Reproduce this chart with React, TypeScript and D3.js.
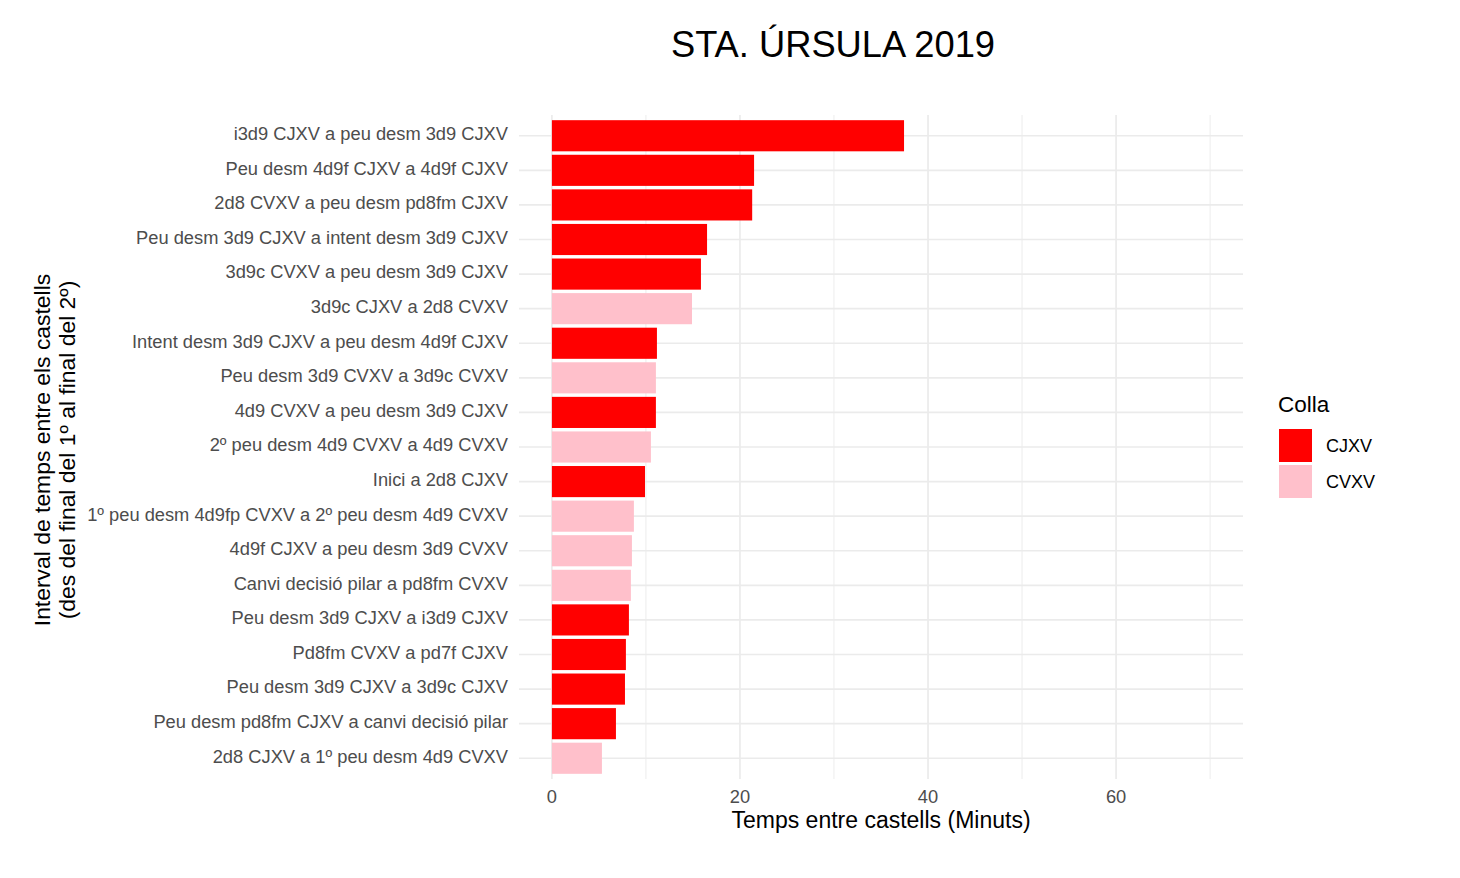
import React from "react";
import * as d3 from "d3";

const categories = [
  "i3d9 CJXV a peu desm 3d9 CJXV",
  "Peu desm 4d9f CJXV a 4d9f CJXV",
  "2d8 CVXV a peu desm pd8fm CJXV",
  "Peu desm 3d9 CJXV a intent desm 3d9 CJXV",
  "3d9c CVXV a peu desm 3d9 CJXV",
  "3d9c CJXV a 2d8 CVXV",
  "Intent desm 3d9 CJXV a peu desm 4d9f CJXV",
  "Peu desm 3d9 CVXV a 3d9c CVXV",
  "4d9 CVXV a peu desm 3d9 CJXV",
  "2º peu desm 4d9 CVXV a 4d9 CVXV",
  "Inici a 2d8 CJXV",
  "1º peu desm 4d9fp CVXV a 2º peu desm 4d9 CVXV",
  "4d9f CJXV a peu desm 3d9 CVXV",
  "Canvi decisió pilar a pd8fm CVXV",
  "Peu desm 3d9 CJXV a i3d9 CJXV",
  "Pd8fm CVXV a pd7f CJXV",
  "Peu desm 3d9 CJXV a 3d9c CJXV",
  "Peu desm pd8fm CJXV a canvi decisió pilar",
  "2d8 CJXV a 1º peu desm 4d9 CVXV",
];
const minutes = [
  37.45, 21.5, 21.3, 16.5, 15.85, 14.9, 11.17, 11.06, 11.06, 10.53, 9.9, 8.72,
  8.51, 8.4, 8.19, 7.87, 7.77, 6.81, 5.32,
];
const colla = [
  "CJXV", "CJXV", "CJXV", "CJXV", "CJXV", "CVXV", "CJXV", "CVXV", "CJXV",
  "CVXV", "CJXV", "CVXV", "CVXV", "CVXV", "CJXV", "CJXV", "CJXV", "CJXV", "CVXV",
];
const groups = ["CJXV", "CVXV"];
const groupColors = ["#ff0000", "#ffc0cb"];
const xTicks = [0, 20, 40, 60];
const xMinor = [10, 30, 50, 70];

const title = "STA. ÚRSULA 2019";
const xTitle = "Temps entre castells (Minuts)";
const yTitle1 = "Interval de temps entre els castells";
const yTitle2 = "(des del final del 1º al final del 2º)";
const legendTitle = "Colla";

const W = 1460;
const H = 878;
const panel = { left: 519, right: 1243, top: 115, bottom: 779 };
const FONT = "'Liberation Sans', Arial, sans-serif";

export default function App() {
  const x = d3
    .scaleLinear()
    .domain([-3.5, 73.5])
    .range([panel.left, panel.right]);
  // ggplot-like discrete scale: expand 0.6 around centres, bar width 0.9
  const y = d3
    .scalePoint<string>()
    .domain(categories)
    .range([panel.top, panel.bottom])
    .padding(0.6);
  const step = y.step();
  const cy = (c: string) => y(c) as number;
  const bh = step * 0.9;
  const color = d3.scaleOrdinal<string, string>().domain(groups).range(groupColors);
  const grid = "#ebebeb";

  return (
    <svg
      width={W}
      height={H}
      style={{ position: "absolute", left: 0, top: 0, background: "#fff" }}
      fontFamily={FONT}
    >
      <rect x={0} y={0} width={W} height={H} fill="#fff" />
      {xMinor.map((t) => (
        <line
          key={"mn" + t}
          x1={x(t)}
          x2={x(t)}
          y1={panel.top}
          y2={panel.bottom}
          stroke={grid}
          strokeWidth={0.9}
        />
      ))}
      {xTicks.map((t) => (
        <line
          key={"mj" + t}
          x1={x(t)}
          x2={x(t)}
          y1={panel.top}
          y2={panel.bottom}
          stroke={grid}
          strokeWidth={1.7}
        />
      ))}
      {categories.map((c, i) => (
        <line
          key={"hg" + i}
          x1={panel.left}
          x2={panel.right}
          y1={cy(c)}
          y2={cy(c)}
          stroke={grid}
          strokeWidth={1.7}
        />
      ))}
      {categories.map((c, i) => (
        <rect
          key={"b" + i}
          x={x(0)}
          y={cy(c) - bh / 2}
          width={x(minutes[i]) - x(0)}
          height={bh}
          fill={color(colla[i])}
        />
      ))}
      {categories.map((c, i) => (
        <text
          key={"yl" + i}
          x={508}
          y={cy(c) - 2}
          dy="0.35em"
          textAnchor="end"
          fontSize={18.3}
          fill="#4d4d4d"
        >
          {c}
        </text>
      ))}
      {xTicks.map((t) => (
        <text
          key={"xl" + t}
          x={x(t)}
          y={797}
          dy="0.35em"
          textAnchor="middle"
          fontSize={18.3}
          fill="#4d4d4d"
        >
          {t}
        </text>
      ))}
      <text
        x={(panel.left + panel.right) / 2}
        y={828}
        textAnchor="middle"
        fontSize={23}
        fill="#000"
      >
        {xTitle}
      </text>
      <g transform={`translate(50, ${(panel.top + panel.bottom) / 2 + 3}) rotate(-90)`}>
        <text x={0} y={0} textAnchor="middle" fontSize={22.9} fill="#000">
          {yTitle1}
        </text>
        <text x={0} y={25} textAnchor="middle" fontSize={22.9} fill="#000">
          {yTitle2}
        </text>
      </g>
      <text x={833} y={57} textAnchor="middle" fontSize={36.3} fill="#000">
        {title}
      </text>
      <text x={1278} y={412} fontSize={22.5} fill="#000">
        {legendTitle}
      </text>
      {groups.map((g, i) => (
        <g key={"lg" + g} transform={`translate(1279, ${429 + i * 36})`}>
          <rect x={0} y={0} width={33} height={33} fill={color(g)} />
          <text x={47} y={16.5} dy="0.35em" fontSize={18} fill="#000">
            {g}
          </text>
        </g>
      ))}
    </svg>
  );
}
